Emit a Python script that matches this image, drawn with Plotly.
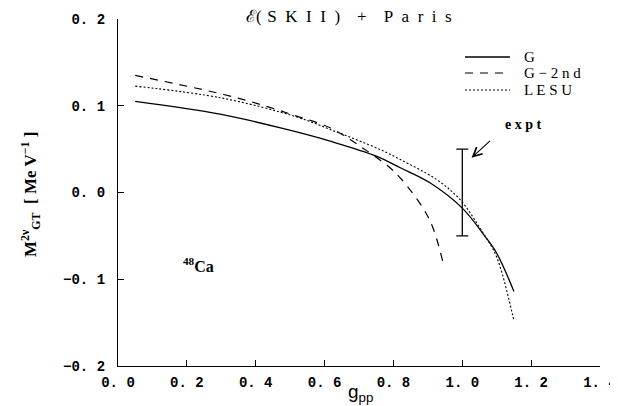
import plotly.graph_objects as go

# --- data ---
g_x = [0.05, 0.30, 0.49, 0.616, 0.75, 0.82, 0.906, 1.0, 1.065, 1.10, 1.15]
g_y = [0.105, 0.090, 0.0727, 0.0592, 0.042, 0.0285, 0.0112, -0.018, -0.050, -0.070, -0.114]

g2_x = [0.05, 0.307, 0.413, 0.519, 0.616, 0.703, 0.79, 0.824, 0.886, 0.915, 0.943]
g2_y = [0.135, 0.113, 0.1015, 0.088, 0.0746, 0.0534, 0.0285, 0.015, -0.018, -0.041, -0.079]

lesu_x = [0.05, 0.30, 0.52, 0.616, 0.761, 0.82, 0.925, 0.993, 1.06, 1.099, 1.15]
lesu_y = [0.1226, 0.109, 0.087, 0.0727, 0.0496, 0.038, 0.015, -0.008, -0.0465, -0.0735, -0.148]

expt_x = [1.0]
expt_y = [0.0]
expt_err = [0.05]

series_names = ["G", "G \u2212 2 n d", "L E S U"]
series_dash = ["solid", "8px,7px", "2px,2px"]

x_ticks = [0.0, 0.2, 0.4, 0.6, 0.8, 1.0, 1.2, 1.4]
x_ticktext = ["0. 0", "0. 2", "0. 4", "0. 6", "0. 8", "1. 0", "1. 2", "1. 4"]
y_ticks = [-0.2, -0.1, 0.0, 0.1, 0.2]
y_ticktext = ["\u22120. 2", "\u22120. 1", "0. 0", "0. 1", "0. 2"]

serif = "Liberation Serif"
tickfam = "Liberation Mono"

# page body has an 8px margin, so the figure is laid out 8px in from the window edge
OFF = 8
W, H = 618 - OFF, 406 - OFF
L, T, R, B = 118 - OFF, 19 - OFF, 18, 40
PW, PH = W - L - R, H - T - B


def px(xw):  # window x pixel -> paper x
    return (xw - OFF - L) / PW


def py(yw):  # window y pixel -> paper y
    return (H - B - (yw - OFF)) / PH


fig = go.Figure()
for xs, ys, nm, dsh, wd in [(g_x, g_y, series_names[0], series_dash[0], 1.3),
                            (g2_x, g2_y, series_names[1], series_dash[1], 1.2),
                            (lesu_x, lesu_y, series_names[2], series_dash[2], 1.1)]:
    fig.add_trace(go.Scatter(x=xs, y=ys, mode="lines", name=nm, showlegend=False,
                             line=dict(color="black", width=wd, dash=dsh, shape="spline")))
fig.add_trace(go.Scatter(x=expt_x, y=expt_y, mode="markers", showlegend=False,
                         marker=dict(size=1, color="rgba(0,0,0,0)"),
                         error_y=dict(type="data", array=expt_err, visible=True,
                                      color="black", thickness=1.3, width=6)))

axis_common = dict(showline=True, linecolor="black", linewidth=1.3, mirror=False,
                   ticks="inside", ticklen=6, tickwidth=1.2, tickcolor="black",
                   showgrid=False, zeroline=False, ticklabeloverflow="allow",
                   tickfont=dict(family=tickfam, size=14, color="black", weight="bold"))

fig.update_layout(
    width=W, height=H,
    margin=dict(l=L, r=R, t=T, b=B, autoexpand=False),
    paper_bgcolor="white", plot_bgcolor="white",
    showlegend=False,
    xaxis=dict(range=[0, 1.4], tickvals=x_ticks, ticktext=x_ticktext,
               ticklabelstandoff=3, **axis_common),
    yaxis=dict(range=[-0.2, 0.2], tickvals=y_ticks, ticktext=y_ticktext,
               ticklabelstandoff=9, **axis_common),
)

# legend drawn as line samples plus labels
shapes = []
legend_y = [57, 73, 90]
annotations = []
for nm, dsh, wd, yy in zip(series_names, series_dash, [1.3, 1.2, 1.1], legend_y):
    shapes.append(dict(type="line", xref="paper", yref="paper",
                       x0=px(465), x1=px(510), y0=py(yy), y1=py(yy),
                       line=dict(color="black", width=wd, dash=dsh)))
    annotations.append(dict(text=nm, xref="paper", yref="paper", x=px(522), y=py(yy),
                            xanchor="left", yanchor="middle", showarrow=False,
                            font=dict(family=serif, size=15, color="black")))

sp = "\u2002"
title_text = ("\u2130(" + "\u2004" + sp.join("SKII") + sp + ")" + sp + sp + "+" + sp + sp
              + sp.join("Paris"))

annotations += [
    dict(text=title_text, xref="paper", yref="paper",
         x=px(349), y=py(17), xanchor="center", yanchor="middle",
         showarrow=False, font=dict(family=serif, size=17, color="black")),
    dict(text="M<sup>2\u03bd</sup><sub>GT</sub>  [ Me V<sup>\u22121</sup> ]", xref="paper", yref="paper",
         x=px(30), y=py(195), xanchor="center", yanchor="middle",
         textangle=-90, showarrow=False,
         font=dict(family=serif, size=17, color="black", weight="bold")),
    dict(text="g<sub>pp</sub>", xref="paper", yref="paper",
         x=px(360), y=py(393), xanchor="center", yanchor="middle",
         showarrow=False, font=dict(family="Liberation Sans", size=19, color="black")),
    dict(text="<sup>48</sup>Ca", xref="x", yref="y", x=0.233, y=-0.083,
         xanchor="center", yanchor="middle", showarrow=False,
         font=dict(family=serif, size=16, color="black", weight="bold")),
    dict(text="e x p t", xref="x", yref="y", x=1.178, y=0.078,
         xanchor="center", yanchor="middle", showarrow=False,
         font=dict(family=serif, size=14, color="black", weight="bold")),
    dict(text="", xref="x", yref="y", x=1.027, y=0.040,
         axref="x", ayref="y", ax=1.085, ay=0.061,
         showarrow=True, arrowhead=5, arrowsize=1.6, arrowwidth=1.1, arrowcolor="black",
         standoff=0, startstandoff=0),
]
fig.update_layout(annotations=annotations, shapes=shapes)

fig.write_html("out.html")
